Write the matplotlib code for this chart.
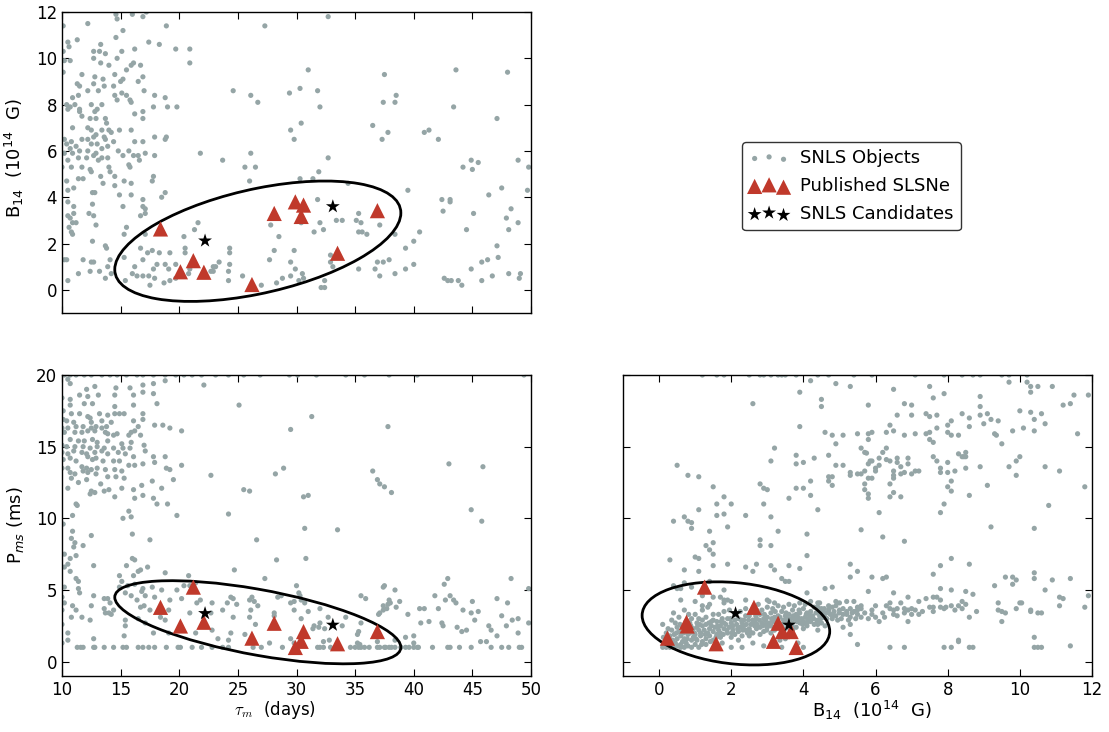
import numpy as np
import matplotlib
matplotlib.use("Agg")
import matplotlib.pyplot as plt
from matplotlib.patches import Ellipse
from matplotlib.transforms import Affine2D

plt.rcParams['font.family'] = ['DejaVu Sans']
plt.rcParams['font.size'] = 12

GREY = '#95a5a6'
RED = '#c0392b'

# ---------------------------------------------------------------- data
# Published SLSNe: decay time, magnetic field, spin period
slsn_tau = [18.4, 20.1, 21.2, 22.1, 26.2, 28.1, 29.9, 30.4, 30.6, 33.5, 36.9]
slsn_B = [2.63, 0.78, 1.26, 0.76, 0.23, 3.30, 3.80, 3.17, 3.66, 1.58, 3.42]
slsn_P = [3.79, 2.49, 5.20, 2.75, 1.64, 2.68, 0.99, 1.42, 2.10, 1.25, 2.10]

# SNLS candidates
cand_tau = [22.2, 33.1]
cand_B = [2.12, 3.60]
cand_P = [3.37, 2.56]

# SNLS objects: (tau_m, B14)
snls_tau_B = [
    (14.6, 11.9), (14.7, 11.7), (16.0, 11.9), (16.9, 11.8), (17.2, 12.0), (12.2, 11.5), (18.9, 11.4),
    (10.1, 11.4), (15.2, 11.2), (14.6, 10.9), (17.4, 10.7), (18.3, 10.6), (10.5, 10.7), (11.3, 10.8),
    (10.6, 10.5), (13.3, 10.6), (12.7, 10.3), (13.2, 10.3), (13.7, 10.2), (16.2, 10.4), (15.1, 10.3),
    (19.7, 10.4), (20.9, 10.4), (20.9, 9.8), (10.1, 10.3), (10.2, 9.9), (10.7, 9.9), (12.7, 10.0),
    (14.7, 10.0), (13.3, 9.8), (14.0, 9.7), (15.9, 9.7), (16.1, 9.8), (16.7, 9.7), (15.5, 9.5),
    (10.1, 9.4), (11.7, 9.3), (12.8, 9.2), (14.5, 9.3), (16.9, 9.2), (13.5, 9.1), (15.2, 9.1),
    (15.0, 9.0), (16.5, 9.0), (11.3, 8.9), (11.5, 8.8), (12.7, 8.9), (13.6, 8.8), (14.4, 8.8),
    (12.2, 8.6), (13.1, 8.6), (17.0, 8.6), (15.1, 8.5), (15.5, 8.4), (14.5, 8.4), (10.9, 8.3),
    (11.4, 8.4), (14.7, 8.2), (15.8, 8.2), (10.4, 8.0), (11.1, 8.0), (12.5, 8.0), (13.4, 8.0),
    (15.9, 8.1), (17.9, 8.4), (18.8, 8.3), (17.8, 7.9), (19.0, 7.9), (19.8, 7.9), (10.7, 7.9),
    (10.5, 7.8), (11.5, 7.8), (11.5, 7.7), (13.0, 7.8), (12.8, 7.7), (16.9, 7.7), (11.7, 7.5),
    (16.2, 7.6), (12.4, 7.4), (12.9, 7.4), (13.7, 7.4), (16.9, 7.4), (10.9, 7.0), (12.2, 7.0),
    (12.5, 6.9), (13.8, 7.2), (14.0, 6.9), (13.4, 6.9), (14.9, 6.9), (15.9, 6.9), (13.6, 6.6),
    (14.2, 6.8), (12.7, 6.6), (12.9, 6.7), (17.9, 6.6), (18.8, 6.5), (18.9, 6.6), (10.2, 6.5),
    (10.8, 6.4), (11.7, 6.5), (12.2, 6.5), (13.7, 6.5), (14.4, 6.4), (16.2, 6.4), (16.9, 6.4),
    (10.4, 6.3), (11.2, 6.2), (12.5, 6.3), (13.0, 6.3), (13.4, 6.1), (13.9, 6.2), (10.7, 6.1),
    (11.5, 6.0), (12.2, 6.0), (12.9, 5.9), (14.8, 6.0), (15.7, 6.0), (10.2, 5.9), (10.9, 5.9),
    (12.7, 5.8), (13.4, 5.7), (13.9, 5.7), (15.2, 5.8), (16.1, 5.8), (16.5, 5.8), (17.1, 5.9),
    (17.9, 5.8), (21.8, 5.9), (23.7, 5.6), (10.5, 5.6), (11.4, 5.7), (12.1, 5.7), (13.1, 5.6),
    (15.7, 5.4), (16.6, 5.6), (10.0, 5.3), (10.8, 5.3), (11.7, 5.3), (12.4, 5.2), (14.0, 5.3),
    (15.8, 5.3), (12.5, 5.1), (14.1, 5.1), (13.3, 4.9), (14.5, 4.9), (17.8, 4.9), (17.7, 4.7),
    (11.4, 4.8), (11.8, 4.8), (10.4, 4.7), (15.3, 4.7), (13.5, 4.6), (11.0, 4.4), (14.5, 4.5),
    (15.9, 4.6), (10.5, 4.3), (12.6, 4.2), (12.8, 4.2), (14.9, 4.1), (15.9, 4.1), (18.5, 4.0),
    (18.8, 4.2), (16.9, 3.9), (10.5, 3.8), (11.0, 3.6), (12.6, 3.7), (15.2, 3.6), (16.9, 3.6),
    (17.1, 3.5), (10.5, 3.2), (11.0, 3.3), (12.3, 3.3), (12.7, 3.2), (16.7, 3.2), (17.1, 3.3),
    (10.7, 3.1), (10.9, 2.9), (11.2, 2.9), (12.9, 2.8), (10.6, 2.7), (10.8, 2.5), (10.9, 2.4),
    (15.5, 2.7), (15.3, 2.4), (17.1, 2.4), (21.6, 2.9), (21.3, 2.6), (20.4, 2.3), (12.6, 2.1),
    (13.7, 1.9), (13.8, 1.8), (16.7, 1.8), (17.3, 1.6), (17.7, 1.7), (18.3, 1.6), (19.2, 1.6),
    (20.5, 1.8), (20.5, 1.6), (24.3, 1.8), (24.3, 1.6), (10.2, 1.3), (10.4, 1.3), (11.8, 1.3),
    (12.5, 1.2), (12.7, 1.2), (14.1, 1.3), (15.3, 1.4), (16.9, 1.3), (18.8, 1.1), (18.1, 1.1),
    (19.7, 1.1), (23.4, 1.2), (24.3, 1.1), (13.9, 1.0), (16.2, 1.0), (17.8, 0.9), (19.1, 0.9),
    (20.9, 0.9), (22.9, 1.0), (23.1, 1.0), (22.7, 0.8), (11.4, 0.7), (12.4, 0.8), (13.2, 0.8),
    (14.2, 0.7), (16.0, 0.7), (16.4, 0.6), (16.9, 0.6), (17.4, 0.6), (17.9, 0.5), (18.7, 0.3),
    (19.2, 0.4), (19.7, 0.5), (20.8, 0.7), (22.9, 0.8), (10.5, 0.4), (13.7, 0.5), (15.4, 0.4),
    (24.2, 0.4), (17.5, 0.2), (24.2, 0.8),
    (32.7, 11.8), (27.3, 11.4), (31.0, 9.5), (37.5, 9.3), (24.6, 8.6), (26.1, 8.4), (26.7, 8.1),
    (29.4, 8.5), (30.3, 8.7), (31.8, 8.6), (32.0, 7.9), (37.4, 8.1), (30.4, 7.2), (29.5, 6.9),
    (29.8, 6.5), (36.5, 7.1), (37.8, 6.8), (37.3, 6.5), (26.1, 5.9), (25.6, 5.3), (26.5, 5.3),
    (26.0, 4.7), (32.7, 5.7), (31.9, 5.1), (30.3, 4.8), (31.4, 4.8), (34.4, 4.6), (31.8, 3.9),
    (27.8, 2.8), (28.5, 2.3), (30.4, 2.9), (32.0, 2.9), (31.5, 2.5), (32.3, 2.6), (33.4, 3.0),
    (33.9, 3.0), (35.3, 3.3), (35.1, 3.0), (35.5, 2.9), (35.3, 2.5), (35.6, 2.5), (36.0, 2.4),
    (37.1, 2.8), (28.1, 1.7), (29.8, 1.7), (27.7, 1.3), (29.5, 1.2), (29.9, 0.9), (28.8, 0.5),
    (29.5, 0.6), (30.5, 0.7), (30.6, 0.5), (30.2, 0.4), (28.3, 0.3), (27.0, 0.2), (25.4, 0.6),
    (32.4, 0.4), (32.1, 0.1), (32.4, 0.1), (32.9, 1.5), (32.9, 1.2), (33.1, 1.0), (35.3, 0.9),
    (36.9, 1.2), (37.4, 1.2), (37.9, 1.3), (36.7, 0.9), (37.1, 0.6),
    (43.6, 9.5), (48.0, 9.4), (38.5, 8.4), (38.4, 8.1), (43.4, 7.9), (47.1, 7.4), (40.9, 6.8),
    (41.3, 6.9), (42.1, 6.5), (44.2, 5.3), (44.9, 5.6), (45.5, 5.5), (45.0, 5.2), (48.9, 5.6),
    (49.8, 5.3), (39.5, 4.3), (42.4, 3.9), (43.1, 3.9), (43.1, 3.8), (42.5, 3.4), (45.1, 3.3),
    (46.4, 4.1), (47.5, 4.4), (48.3, 3.5), (47.9, 3.1), (48.1, 2.6), (48.9, 2.9), (49.7, 4.3),
    (44.5, 2.6), (40.5, 2.5), (40.0, 2.1), (38.4, 2.4), (39.3, 1.8), (38.4, 0.7), (39.3, 0.9),
    (40.0, 1.1), (42.6, 0.5), (42.9, 0.4), (43.2, 0.4), (43.8, 0.4), (44.1, 0.2), (44.9, 0.9),
    (45.8, 0.4), (45.8, 1.2), (46.3, 1.3), (46.7, 0.6), (47.2, 1.4), (47.1, 1.9), (48.1, 0.7),
    (49.0, 0.5), (49.1, 0.7),
]

# SNLS objects: (tau_m, P_ms)
snls_tau_P = [
    (10.2, 20.0), (10.7, 20.0), (11.2, 20.0), (11.9, 20.0), (12.5, 20.0), (13.4, 20.0), (14.1, 20.0),
    (14.7, 20.0), (15.5, 20.0), (16.4, 20.0), (16.9, 20.0), (17.8, 20.0), (18.8, 20.0), (19.7, 20.0),
    (20.4, 20.0), (21.1, 20.0), (21.9, 20.0), (23.1, 20.0), (24.2, 20.0), (25.5, 20.0), (26.9, 20.0),
    (29.4, 20.0), (30.1, 20.0), (31.7, 20.0), (34.2, 20.0), (35.8, 20.0), (37.9, 20.0), (40.3, 20.0),
    (49.4, 20.0),
    (10.5, 19.7), (10.7, 19.4), (12.1, 19.0), (12.8, 19.2), (14.6, 19.1), (15.8, 19.1), (16.9, 19.3),
    (17.8, 19.4), (18.8, 19.6), (22.1, 19.3), (10.0, 18.4), (10.7, 18.3), (11.5, 18.6), (12.2, 18.5),
    (13.1, 18.6), (14.5, 18.6), (16.1, 18.6), (16.9, 18.8), (17.8, 18.7), (10.7, 17.9), (11.9, 18.0),
    (12.6, 18.0), (14.5, 17.8), (16.1, 17.9), (18.1, 18.0), (10.1, 17.5), (10.8, 17.3), (11.5, 17.3),
    (12.2, 17.1), (13.2, 17.3), (13.9, 17.2), (14.5, 17.3), (14.9, 17.3), (15.3, 17.3), (16.9, 17.3),
    (10.1, 16.9), (10.4, 16.8), (11.0, 16.7), (12.4, 17.0), (12.5, 16.7), (13.4, 16.8), (14.2, 16.7),
    (16.1, 16.8), (16.9, 16.9), (16.5, 16.4), (17.9, 16.5), (18.6, 16.5), (19.2, 16.3), (20.2, 16.1),
    (10.0, 16.3), (10.5, 16.3), (11.2, 16.4), (11.8, 16.4), (12.5, 16.3), (12.9, 16.4), (13.4, 16.3),
    (13.8, 16.4), (10.2, 16.0), (11.1, 16.0), (11.7, 16.0), (12.2, 16.1), (12.8, 16.1), (13.7, 16.0),
    (13.9, 15.9), (14.4, 15.8), (14.7, 15.9), (15.7, 15.8), (15.9, 16.0), (16.2, 16.1), (16.7, 15.8),
    (10.7, 15.5), (11.4, 15.4), (11.9, 15.4), (12.6, 15.5), (13.0, 15.3), (13.9, 15.4), (15.1, 15.2),
    (15.9, 15.3), (10.0, 15.1), (10.4, 15.0), (11.1, 15.0), (11.8, 15.0), (12.4, 14.9), (13.0, 15.0),
    (13.6, 14.9), (14.4, 14.9), (15.2, 14.9), (15.8, 14.9), (17.0, 15.1), (10.0, 14.6), (10.5, 14.5),
    (11.0, 14.7), (11.7, 14.6), (12.1, 14.5), (12.8, 14.6), (13.4, 14.7), (13.9, 14.5), (14.8, 14.6),
    (15.4, 14.5), (16.1, 14.3), (17.1, 14.7), (17.8, 14.3), (18.8, 14.3), (10.1, 14.1), (10.7, 14.2),
    (11.2, 14.0), (12.2, 14.3), (12.6, 14.1), (12.9, 14.2), (13.5, 14.0), (14.4, 14.0), (14.9, 14.0),
    (15.7, 13.7), (16.2, 13.7), (16.9, 13.8), (17.9, 13.9), (18.9, 13.5), (19.2, 13.4), (20.2, 13.7),
    (10.0, 13.5), (10.5, 13.5), (11.7, 13.6), (12.1, 13.5), (12.5, 13.4), (13.0, 13.5), (13.7, 13.4),
    (14.5, 13.4), (15.1, 13.3), (10.7, 13.2), (11.1, 13.1), (11.8, 13.3), (12.2, 13.2), (12.9, 13.1),
    (13.9, 12.9), (14.6, 12.9), (15.3, 12.8), (22.7, 13.0), (10.8, 12.8), (11.4, 12.5), (12.1, 12.7),
    (13.3, 12.4), (14.0, 12.0), (16.8, 12.3), (17.7, 12.6), (18.5, 12.1), (19.5, 12.7), (10.5, 12.1),
    (12.5, 11.9), (12.8, 11.8), (13.6, 11.9), (15.1, 12.1), (16.1, 12.0), (16.9, 11.6), (17.8, 11.4),
    (16.2, 11.4), (14.5, 11.5), (12.4, 11.7), (11.2, 11.0), (11.3, 10.9), (18.1, 11.0), (19.0, 11.0),
    (10.9, 10.2), (15.7, 10.5), (15.9, 10.1), (15.2, 10.0), (19.8, 10.2), (24.2, 10.3), (10.1, 9.6),
    (10.9, 9.1), (12.5, 8.8), (16.0, 8.9), (10.8, 8.6), (17.5, 8.5), (11.1, 8.3), (11.8, 8.1),
    (11.0, 8.0), (10.2, 7.5), (11.2, 7.4), (10.7, 7.2), (16.0, 7.2), (10.5, 6.8), (12.7, 6.7),
    (15.5, 6.7), (16.2, 7.1), (17.3, 6.6), (10.2, 6.6), (10.7, 6.3), (16.7, 6.4), (16.5, 6.3),
    (24.7, 6.4), (14.9, 6.0), (16.1, 6.0), (18.8, 6.2), (20.8, 6.0), (11.2, 5.8), (11.4, 5.6),
    (15.1, 5.6), (15.6, 5.3), (16.2, 5.4), (14.9, 5.2), (16.9, 5.1), (10.2, 5.2), (11.4, 5.1),
    (11.5, 4.8), (16.8, 4.9), (17.7, 5.2), (18.5, 5.0), (19.8, 5.0), (20.4, 5.3), (20.9, 5.3),
    (21.4, 5.5), (10.0, 4.5), (10.2, 4.1), (10.9, 3.9), (12.7, 4.6), (13.6, 4.4), (13.9, 4.4),
    (14.1, 4.1), (15.4, 4.8), (15.9, 4.6), (16.4, 4.3), (17.1, 4.6), (17.9, 4.5), (19.2, 4.3),
    (20.2, 4.4), (21.5, 4.1), (21.8, 4.3), (22.8, 4.1), (24.1, 4.1), (24.4, 4.5), (10.0, 3.6),
    (11.2, 3.6), (12.5, 3.9), (13.6, 3.7), (13.7, 3.4), (14.0, 3.4), (14.2, 3.3), (14.4, 3.6),
    (16.7, 3.8), (17.0, 3.9), (17.5, 3.6), (19.1, 3.6), (20.9, 3.4), (22.7, 3.4), (23.7, 3.6),
    (10.8, 3.1), (11.7, 3.1), (12.4, 2.9), (15.4, 2.9), (16.5, 3.0), (17.1, 2.7), (18.4, 3.1),
    (18.8, 2.9), (10.0, 2.6), (10.5, 2.0), (15.4, 2.5), (17.8, 2.0), (19.1, 2.0), (20.1, 2.3),
    (21.4, 2.0), (22.8, 2.2), (12.7, 1.6), (15.3, 1.8), (10.5, 1.5), (23.3, 1.6), (24.2, 1.5),
    (24.4, 2.0), (10.0, 1.3),
    (11.3, 1.0), (11.6, 1.0), (11.8, 1.0), (12.7, 1.0), (12.8, 1.0), (13.6, 1.0), (14.4, 1.0),
    (15.2, 1.0), (15.5, 1.0), (16.5, 1.0), (16.9, 1.0), (17.4, 1.0), (17.9, 1.0), (18.9, 1.0),
    (19.9, 1.0), (20.1, 1.0), (21.1, 1.0), (21.9, 1.0), (22.8, 1.0), (23.7, 1.0), (24.2, 1.0),
    (25.1, 17.9), (31.3, 17.1), (29.5, 16.2), (37.8, 16.4), (28.2, 13.1), (28.9, 13.5), (25.5, 12.0),
    (26.0, 11.9), (30.6, 11.5), (31.0, 11.6), (36.5, 13.3), (36.9, 12.7), (37.1, 12.4), (37.5, 12.2),
    (30.7, 9.3), (33.5, 9.2), (26.6, 8.5), (28.3, 7.1), (30.8, 7.2), (27.3, 5.8), (30.0, 5.3),
    (30.3, 4.6), (30.4, 4.3), (29.5, 4.1), (29.8, 4.2), (26.2, 4.5), (26.4, 4.2), (26.0, 4.3),
    (26.7, 3.9), (26.1, 3.6), (24.9, 4.0), (24.6, 3.1), (26.0, 3.1), (26.5, 2.6), (25.6, 1.9),
    (28.1, 3.4), (28.4, 4.5), (28.7, 4.6), (29.8, 3.6), (30.4, 3.0), (31.0, 3.5), (31.5, 2.5),
    (31.4, 2.3), (31.9, 2.4), (32.0, 2.7), (32.4, 2.3), (32.0, 3.7), (32.7, 3.1), (33.9, 2.5),
    (34.2, 3.1), (32.8, 1.5), (32.3, 1.4), (29.5, 1.6), (29.8, 1.3), (27.7, 1.3), (28.8, 1.0),
    (27.0, 1.0), (26.3, 1.0), (31.8, 1.0), (32.0, 1.0), (32.3, 1.0), (32.9, 1.0), (34.6, 1.0),
    (35.0, 1.0), (35.3, 1.0), (35.5, 1.0), (35.8, 1.0), (36.2, 1.0), (36.9, 1.0), (37.1, 1.0),
    (37.5, 1.0), (37.9, 1.0), (35.2, 1.3), (35.4, 1.2), (35.2, 1.9), (35.5, 2.7), (35.3, 2.1),
    (36.9, 1.4), (37.0, 3.3), (37.1, 3.4), (37.4, 3.6), (37.7, 3.7), (37.8, 4.0), (37.4, 3.9),
    (37.9, 4.3), (37.4, 5.2), (37.5, 5.3), (35.5, 4.6), (35.9, 4.4), (30.2, 4.8), (30.7, 4.1),
    (24.6, 4.4), (28.1, 3.2),
    (43.0, 13.8), (45.9, 13.6), (38.1, 11.8), (44.9, 10.6), (45.8, 9.8), (42.9, 5.8), (42.6, 5.4),
    (48.3, 5.8), (49.8, 5.1), (38.4, 5.0), (41.8, 4.6), (42.7, 4.3), (43.1, 4.6), (43.4, 4.3),
    (43.6, 4.1), (45.0, 4.2), (47.1, 4.4), (48.0, 4.1), (38.0, 4.1), (38.8, 4.2), (38.5, 3.8),
    (40.5, 3.7), (40.9, 3.7), (42.1, 3.7), (44.2, 3.6), (44.9, 3.4), (45.5, 3.5), (39.5, 3.3),
    (47.5, 3.2), (45.2, 2.9), (48.4, 2.9), (48.9, 3.0), (49.8, 2.7), (40.6, 2.7), (41.3, 2.8),
    (42.4, 2.7), (42.5, 2.5), (43.7, 2.4), (44.1, 2.1), (44.5, 2.2), (46.4, 2.5), (46.6, 2.2),
    (47.1, 1.8), (47.9, 2.5), (48.9, 2.0), (39.3, 1.7), (40.0, 1.8), (40.0, 1.3), (45.7, 1.4),
    (46.2, 1.4), (38.4, 1.5),
    (37.6, 1.0), (38.1, 1.0), (38.4, 1.0), (38.9, 1.0), (39.3, 1.0), (39.6, 1.0), (40.0, 1.0),
    (40.3, 1.0), (40.4, 1.0), (41.6, 1.0), (42.9, 1.0), (43.1, 1.0), (43.9, 1.0), (44.9, 1.0),
    (46.6, 1.0), (47.5, 1.0), (48.1, 1.0), (49.0, 1.0), (49.2, 1.0),
]

# SNLS objects: (B14, P_ms)
snls_B_P = [
    (1.2, 20.0), (1.6, 20.0), (1.8, 20.0), (2.5, 20.0), (2.8, 20.0), (2.9, 20.0), (3.1, 20.0),
    (3.3, 20.0), (3.4, 20.0), (3.5, 20.0), (3.8, 20.0), (4.4, 20.0), (4.7, 20.0), (5.4, 20.0),
    (5.9, 20.0), (7.1, 20.0), (7.9, 20.0), (8.4, 20.0), (8.7, 20.0), (8.9, 20.0), (9.5, 20.0),
    (9.7, 20.0), (10.2, 20.0),
    (2.6, 18.0), (3.2, 14.9), (0.5, 13.7), (0.8, 13.0), (1.1, 12.9), (3.1, 14.0), (1.5, 12.2),
    (2.8, 12.4), (2.9, 12.1), (3.0, 12.0), (1.8, 11.5), (1.6, 11.0), (2.0, 11.0), (2.9, 11.0),
    (1.1, 10.6), (1.6, 10.2), (1.8, 10.3), (0.7, 10.1), (0.8, 9.8), (0.9, 9.7), (0.4, 9.8),
    (0.9, 9.3), (1.9, 9.4), (2.4, 10.2), (3.1, 10.1), (1.4, 9.1), (2.8, 8.5), (2.8, 8.1),
    (3.1, 8.1), (1.3, 8.1), (1.5, 8.3), (1.4, 7.8), (1.5, 7.5), (1.0, 7.3), (1.1, 7.2),
    (0.3, 7.1), (1.5, 6.7), (1.9, 6.8), (2.4, 6.6), (2.7, 6.8), (2.6, 6.3), (3.1, 6.7),
    (3.2, 6.4), (0.7, 6.4), (1.1, 6.3), (1.4, 5.6), (0.4, 5.3), (0.5, 5.1), (0.6, 5.1),
    (0.9, 5.2), (0.7, 5.5), (1.8, 5.0), (2.0, 4.2), (1.7, 4.5), (1.8, 4.3), (0.6, 4.3),
    (1.0, 4.2), (1.2, 4.6), (1.5, 4.5), (1.2, 3.9), (2.4, 4.3), (3.0, 4.3), (3.2, 4.1),
    # dense band of low-field, fast-spinning objects
    (0.10, 1.0), (0.15, 1.2), (0.20, 1.0), (0.25, 1.4), (0.30, 1.1), (0.12, 1.7), (0.20, 2.0),
    (0.30, 1.8), (0.25, 2.3), (0.10, 2.6), (0.35, 2.9), (0.30, 1.0),
    (0.40, 1.0), (0.45, 1.3), (0.50, 1.6), (0.42, 1.9), (0.55, 2.1), (0.50, 2.4), (0.60, 1.2),
    (0.60, 1.0), (0.45, 2.7), (0.55, 3.1), (0.60, 1.8), (0.40, 3.4), (0.58, 2.6),
    (0.70, 1.0), (0.75, 1.3), (0.70, 1.6), (0.80, 1.9), (0.72, 2.2), (0.85, 2.0), (0.90, 1.5),
    (0.80, 1.1), (0.88, 2.5), (0.75, 2.8), (0.90, 3.0), (0.82, 3.3), (0.70, 3.6), (0.95, 2.3),
    (0.95, 1.7), (0.90, 1.0),
    (1.00, 1.2), (1.05, 1.5), (1.00, 1.9), (1.10, 2.2), (1.15, 1.8), (1.20, 2.5), (1.05, 2.7),
    (1.10, 3.0), (1.20, 1.4), (1.15, 2.0), (1.00, 3.3), (1.20, 3.6), (1.10, 1.0), (1.20, 2.9),
    (1.05, 2.4),
    (1.30, 1.6), (1.35, 2.0), (1.40, 2.3), (1.30, 2.6), (1.45, 2.8), (1.50, 2.1), (1.40, 1.8),
    (1.30, 3.1), (1.50, 3.3), (1.35, 3.8), (1.50, 1.5), (1.45, 2.5), (1.30, 1.2), (1.50, 2.9),
    (1.40, 4.0),
    (1.60, 1.9), (1.65, 2.2), (1.70, 2.5), (1.60, 2.8), (1.75, 3.0), (1.80, 2.3), (1.70, 1.7),
    (1.80, 2.7), (1.65, 3.3), (1.80, 3.5), (1.75, 1.3), (1.60, 1.0), (1.70, 2.0), (1.80, 4.1),
    (1.90, 2.0), (1.95, 2.4), (2.00, 2.7), (1.90, 3.0), (2.05, 2.2), (2.10, 2.9), (2.00, 1.7),
    (2.10, 3.3), (1.95, 3.6), (2.05, 2.5), (2.10, 1.9), (2.00, 1.0), (1.90, 4.3),
    (2.20, 2.1), (2.25, 2.4), (2.30, 2.7), (2.20, 3.0), (2.35, 2.5), (2.40, 3.2), (2.30, 1.8),
    (2.40, 2.2), (2.25, 3.5), (2.35, 2.9), (2.20, 1.5), (2.40, 3.7), (2.30, 1.0), (2.45, 2.0),
    (2.50, 2.3), (2.55, 2.6), (2.60, 2.9), (2.50, 3.2), (2.65, 2.5), (2.70, 3.0), (2.60, 2.0),
    (2.70, 2.3), (2.55, 3.5), (2.65, 2.8), (2.70, 3.6), (2.50, 1.8), (2.60, 1.3), (2.75, 4.0),
    (2.80, 2.4), (2.85, 2.7), (2.90, 3.0), (2.80, 3.3), (2.95, 2.6), (3.00, 3.1), (2.90, 2.1),
    (3.00, 2.4), (2.85, 3.6), (2.95, 2.9), (3.00, 3.8), (2.80, 1.9), (2.90, 1.1), (3.05, 4.2),
    (3.10, 2.5), (3.15, 2.8), (3.20, 3.1), (3.10, 3.4), (3.25, 2.7), (3.30, 3.2), (3.20, 2.2),
    (3.30, 2.5), (3.15, 3.7), (3.25, 3.0), (3.30, 3.9), (3.10, 2.0), (3.35, 1.5),
    (3.40, 2.6), (3.45, 2.9), (3.50, 3.2), (3.40, 3.5), (3.55, 2.8), (3.60, 3.3), (3.50, 2.3),
    (3.60, 2.6), (3.45, 3.8), (3.55, 3.0), (3.60, 4.0), (3.40, 2.1), (3.50, 1.6), (3.40, 1.0),
    (3.70, 2.7), (3.75, 3.0), (3.80, 3.3), (3.70, 3.6), (3.85, 2.9), (3.90, 3.4), (3.80, 2.4),
    (3.90, 2.7), (3.75, 3.9), (3.85, 3.1), (3.90, 4.1), (3.70, 2.2), (3.85, 1.3),
    (4.00, 2.8), (4.05, 3.1), (4.10, 3.4), (4.00, 3.7), (4.15, 3.0), (4.20, 3.5), (4.10, 2.5),
    (4.20, 2.8), (4.05, 4.0), (4.25, 3.2), (4.30, 3.8), (4.00, 2.3), (4.30, 2.6),
    (4.40, 2.9), (4.45, 3.2), (4.50, 3.5), (4.40, 3.8), (4.55, 3.1), (4.60, 3.4), (4.50, 2.7),
    (4.65, 3.0), (4.70, 3.6), (4.45, 4.1), (4.60, 2.5), (4.70, 3.9),
    (0.18, 1.5), (0.28, 1.6), (0.38, 1.5), (0.35, 2.2), (0.48, 2.0), (0.52, 1.1), (0.65, 1.4),
    (0.68, 2.0), (0.65, 2.4), (0.78, 1.6), (0.85, 2.7), (0.98, 2.0), (1.02, 1.6), (1.12, 2.6),
    (1.18, 1.2), (1.25, 2.2), (1.28, 1.9), (1.38, 2.7), (1.42, 1.4), (1.55, 2.4), (1.58, 1.7),
    (1.62, 2.5), (1.72, 2.8), (1.78, 1.9), (1.85, 2.6), (1.88, 2.2), (1.98, 3.0), (2.02, 2.0),
    (2.15, 2.6), (2.18, 2.3), (2.28, 2.9), (2.32, 2.2), (2.42, 2.6), (2.48, 2.9), (2.52, 2.1),
    (2.62, 2.7), (2.68, 3.2), (2.72, 2.6), (2.78, 2.9), (2.88, 2.5), (2.92, 3.3), (2.98, 2.2),
    (3.05, 2.7), (3.12, 3.0), (3.18, 2.4), (3.22, 3.5), (3.28, 2.8), (3.35, 3.1), (3.38, 2.4),
    (3.48, 2.7), (3.52, 3.4), (3.58, 2.4), (3.65, 3.0), (3.68, 2.5), (3.72, 3.2), (3.82, 2.8),
    (3.88, 3.6), (3.95, 3.0), (3.98, 2.6), (4.08, 3.3), (4.12, 2.9), (4.18, 3.2), (4.28, 3.0),
    (4.35, 3.4), (4.38, 2.8), (4.48, 3.0), (4.52, 3.3), (4.58, 3.7), (4.75, 3.3), (4.80, 3.0),
    (4.85, 3.5), (4.90, 3.2), (4.95, 2.9), (5.00, 3.4), (5.05, 3.0), (5.20, 3.3), (5.25, 2.9),
    (5.35, 3.4), (5.45, 3.0), (5.50, 3.8), (5.70, 3.4), (5.80, 3.0), (5.90, 3.3), (6.20, 3.4),
    (6.25, 3.1), (6.60, 3.2), (6.80, 3.4), (7.20, 3.3), (7.60, 3.8), (8.20, 3.6), (8.80, 3.5),
    # higher fields
    (3.9, 18.8), (4.2, 19.6), (4.9, 19.4), (5.3, 19.2), (4.5, 18.3), (4.5, 17.8), (6.5, 19.0),
    (6.8, 18.0), (7.0, 17.9), (5.8, 17.9), (7.5, 19.2), (7.6, 18.4), (3.9, 16.4), (4.6, 16.0),
    (4.8, 15.8), (5.1, 15.8), (4.9, 15.2), (5.5, 15.9), (5.8, 15.9), (5.9, 16.0), (5.8, 15.5),
    (6.3, 16.0), (6.4, 16.5), (6.5, 16.1), (6.6, 17.2), (7.0, 17.2), (7.4, 17.3), (7.5, 17.1),
    (6.8, 15.8), (7.1, 15.9), (7.4, 15.9), (7.5, 16.0), (7.5, 15.5), (7.6, 15.3), (3.8, 14.4),
    (3.8, 13.8), (4.0, 13.9), (4.3, 14.2), (4.7, 14.4), (5.6, 14.9), (5.7, 14.6), (5.75, 14.55),
    (5.8, 13.8), (5.85, 14.0), (5.9, 14.0), (6.1, 14.2), (6.2, 14.6), (6.3, 14.9), (6.3, 14.1),
    (6.1, 13.7), (6.0, 13.5), (6.0, 13.3), (5.7, 13.3), (5.6, 13.1), (5.5, 13.1), (5.3, 13.0),
    (5.3, 13.2), (4.9, 13.7), (5.1, 13.7), (5.9, 12.8), (5.8, 12.8), (6.5, 13.3), (6.4, 14.0),
    (6.6, 14.2), (6.6, 13.9), (6.7, 13.6), (6.7, 13.1), (6.9, 14.2), (6.9, 13.8), (6.8, 13.2),
    (7.0, 13.1), (7.1, 13.3), (7.2, 13.3), (6.5, 13.0), (6.5, 12.8), (4.7, 12.9), (4.8, 12.9),
    (4.7, 12.6), (4.2, 12.6), (4.8, 12.3), (5.7, 12.4), (6.4, 12.4), (3.8, 12.1), (4.0, 12.1),
    (5.7, 12.0), (5.8, 11.7), (5.8, 11.4), (6.5, 11.8), (6.7, 11.5), (6.4, 11.5), (3.6, 11.4),
    (4.2, 11.6), (4.4, 10.6), (6.1, 10.4), (3.3, 9.1), (4.1, 8.9), (5.6, 9.2), (6.2, 8.7),
    (6.8, 8.4), (4.1, 7.4), (3.6, 6.7), (3.9, 6.5), (5.3, 6.8), (5.5, 6.3), (5.3, 5.9),
    (5.9, 5.9), (6.2, 5.8), (6.3, 5.9), (7.6, 6.1), (3.4, 5.8), (3.5, 5.6), (3.6, 5.6),
    (4.6, 5.1), (4.8, 5.2), (5.8, 4.9), (6.5, 4.8), (6.9, 4.5), (7.2, 4.2), (7.4, 4.4),
    (7.6, 4.5), (4.1, 4.8), (4.2, 4.2), (4.4, 4.1), (4.9, 4.2), (5.0, 4.1), (5.2, 4.2),
    (5.4, 4.2), (5.6, 3.9), (5.6, 3.7), (5.5, 3.6), (5.4, 3.5), (5.3, 3.7), (5.2, 3.5),
    (5.1, 3.7), (5.0, 3.6), (4.9, 3.9), (4.8, 3.8), (4.7, 3.4), (4.5, 3.7), (4.4, 3.5),
    (4.6, 3.1), (4.8, 3.2), (5.1, 3.3), (5.3, 3.1), (5.5, 3.3), (5.6, 3.1), (5.9, 3.6),
    (6.0, 3.1), (6.0, 3.9), (6.1, 2.8), (6.3, 3.9), (6.4, 3.7), (6.4, 4.1), (6.5, 3.6),
    (6.6, 3.7), (6.7, 4.1), (6.5, 3.3), (6.8, 3.7), (6.9, 3.6), (7.0, 3.7), (7.1, 3.6),
    (7.3, 3.5), (7.0, 3.3), (6.9, 2.8), (7.5, 3.8), (7.6, 3.5), (5.1, 2.4), (5.3, 2.6),
    (5.3, 1.9), (5.5, 1.2), (6.4, 1.0), (6.8, 1.0), (4.4, 2.6), (4.4, 2.2), (4.0, 1.0),
    (4.1, 2.7), (4.2, 2.9),
    (7.9, 18.7), (8.9, 18.5), (8.9, 17.8), (9.7, 19.5), (10.2, 19.5), (10.3, 19.2), (10.3, 18.8),
    (10.5, 19.2), (10.9, 19.2), (11.5, 18.6), (11.2, 17.9), (11.4, 18.0), (11.9, 18.6), (7.7, 17.2),
    (8.1, 16.8), (8.0, 16.5), (8.0, 16.0), (8.1, 15.8), (8.4, 17.3), (8.6, 17.0), (8.9, 17.2),
    (9.1, 17.3), (9.0, 16.6), (9.2, 16.9), (9.4, 16.8), (8.6, 16.4), (8.3, 15.8), (9.3, 15.9),
    (9.35, 15.8), (9.5, 15.2), (9.8, 16.1), (10.0, 17.5), (10.1, 16.3), (10.3, 17.4), (10.4, 16.9),
    (10.4, 16.1), (10.6, 17.3), (10.7, 16.6), (11.6, 15.9), (7.7, 16.3), (7.6, 14.3), (7.7, 14.0),
    (7.8, 13.5), (7.8, 13.2), (8.0, 13.9), (8.0, 13.2), (8.1, 12.6), (8.1, 11.9), (8.0, 12.2),
    (7.9, 11.0), (7.8, 10.4), (8.2, 13.3), (8.3, 14.5), (8.4, 14.3), (8.45, 14.3), (8.5, 14.6),
    (8.5, 14.3), (8.5, 13.5), (8.6, 11.6), (8.9, 13.6), (9.1, 12.3), (9.7, 13.6), (9.9, 14.0),
    (10.0, 14.3), (9.9, 13.0), (10.7, 13.6), (11.1, 13.3), (11.8, 12.2), (10.8, 10.9), (9.2, 9.4),
    (10.4, 9.3), (7.8, 6.7), (8.1, 7.2), (8.6, 6.8), (7.8, 5.1), (8.1, 5.0), (7.7, 4.5),
    (7.8, 4.3), (7.8, 3.8), (7.9, 3.7), (7.95, 3.8), (8.1, 3.9), (8.3, 3.9), (8.4, 3.7),
    (8.4, 4.2), (8.5, 4.9), (8.5, 4.0), (8.7, 4.7), (8.6, 3.1), (9.3, 5.3), (9.6, 5.9),
    (9.8, 5.9), (9.8, 5.4), (9.9, 5.7), (9.4, 4.1), (9.4, 3.6), (9.5, 3.5), (9.6, 3.4),
    (9.5, 2.8), (9.9, 3.7), (10.0, 4.1), (10.05, 4.1), (10.3, 3.5), (10.3, 3.6), (10.5, 3.4),
    (10.6, 3.4), (10.4, 6.2), (10.4, 5.8), (10.7, 5.0), (10.9, 5.7), (11.1, 4.5), (11.1, 3.9),
    (11.2, 4.4), (11.4, 5.8), (11.8, 3.8), (11.9, 4.6), (7.9, 1.0), (8.1, 1.0), (8.3, 1.5),
    (8.3, 1.4), (8.6, 1.0), (8.7, 1.0), (10.4, 1.7), (10.4, 1.0), (10.5, 1.0), (10.6, 1.0),
    (11.4, 1.1),
]

# Confidence ellipses: centre, half-extent along x, half-extent along y, phase (deg)
ell_tau_B = (26.7, 2.10, 12.2, 2.60, 62.0)
ell_tau_P = (26.7, 2.75, 12.2, 2.90, 127.0)
ell_B_P = (2.13, 2.67, 2.60, 2.90, 101.0)


# ---------------------------------------------------------------- helpers
def add_ellipse(ax, params):
    cx, cy, ax_x, ax_y, phase = params
    ph = np.deg2rad(phase)
    # unit circle mapped to x = cx + a cos t, y = cy + b cos(t - phase)
    m = np.array([[ax_x, 0.0, cx],
                  [ax_y * np.cos(ph), ax_y * np.sin(ph), cy],
                  [0.0, 0.0, 1.0]])
    e = Ellipse((0, 0), 2, 2, fill=False, edgecolor='black', linewidth=2.0,
                transform=Affine2D(m) + ax.transData, zorder=3)
    ax.add_patch(e)


def draw_panel(ax, pts, sx, sy, cx, cy, ell):
    p = np.array(pts)
    h1 = ax.scatter(p[:, 0], p[:, 1], s=14, color=GREY, edgecolors='none', zorder=2,
                    label='SNLS Objects')
    add_ellipse(ax, ell)
    h2 = ax.scatter(sx, sy, s=120, marker='^', color=RED, edgecolors='none', zorder=4,
                    label='Published SLSNe')
    h3 = ax.scatter(cx, cy, s=110, marker='*', color='black', edgecolors='none', zorder=5,
                    label='SNLS Candidates')
    ax.tick_params(direction='in', top=True, right=True, length=5, width=0.8, labelsize=12)
    for sp in ax.spines.values():
        sp.set_linewidth(1.0)
    return h1, h2, h3


# ---------------------------------------------------------------- figure
fig = plt.figure(figsize=(11.09, 7.32), dpi=100)
W, H = 1109.0, 732.0
ax1 = fig.add_axes([62 / W, 1 - 313 / H, 469 / W, 301 / H])
ax2 = fig.add_axes([62 / W, 1 - 676 / H, 469 / W, 301 / H])
ax3 = fig.add_axes([623 / W, 1 - 676 / H, 469 / W, 301 / H])

handles = draw_panel(ax1, snls_tau_B, slsn_tau, slsn_B, cand_tau, cand_B, ell_tau_B)
draw_panel(ax2, snls_tau_P, slsn_tau, slsn_P, cand_tau, cand_P, ell_tau_P)
draw_panel(ax3, snls_B_P, slsn_B, slsn_P, cand_B, cand_P, ell_B_P)

b_label = r'B$_{14}$  (10$^{14}$  G)'

ax1.set_xlim(10, 50)
ax1.set_ylim(-1, 12)
ax1.set_xticks(np.arange(10, 51, 5))
ax1.set_yticks(np.arange(0, 13, 2))
ax1.tick_params(labelbottom=False)
ax1.set_ylabel(b_label, fontsize=13)
ax1.yaxis.set_label_coords(-0.076, 0.515)

ax2.set_xlim(10, 50)
ax2.set_ylim(-1, 20)
ax2.set_xticks(np.arange(10, 51, 5))
ax2.set_yticks(np.arange(0, 21, 5))
ax2.set_ylabel(r'P$_{ms}$ (ms)', fontsize=13)
ax2.yaxis.set_label_coords(-0.076, 0.5)
ax2.set_xlabel(r'$\tau_m$  (days)', fontsize=12, math_fontfamily='cm')
ax2.xaxis.set_label_coords(0.455, -0.075)

ax3.set_xlim(-1, 12)
ax3.set_ylim(-1, 20)
ax3.set_xticks(np.arange(0, 13, 2))
ax3.set_yticks(np.arange(0, 21, 5))
ax3.tick_params(labelleft=False)
ax3.set_xlabel(b_label, fontsize=13)
ax3.xaxis.set_label_coords(0.53, -0.075)

leg = fig.legend(handles=list(handles), loc='upper left',
                 bbox_to_anchor=(742 / W, 1 - 142 / H), scatterpoints=3,
                 fontsize=13, frameon=True, fancybox=True, borderaxespad=0.0,
                 handlelength=2.2, handletextpad=0.6, labelspacing=0.55, borderpad=0.4)
leg.get_frame().set_edgecolor('black')
leg.get_frame().set_linewidth(1.0)

fig.savefig('out.png', dpi=100)
